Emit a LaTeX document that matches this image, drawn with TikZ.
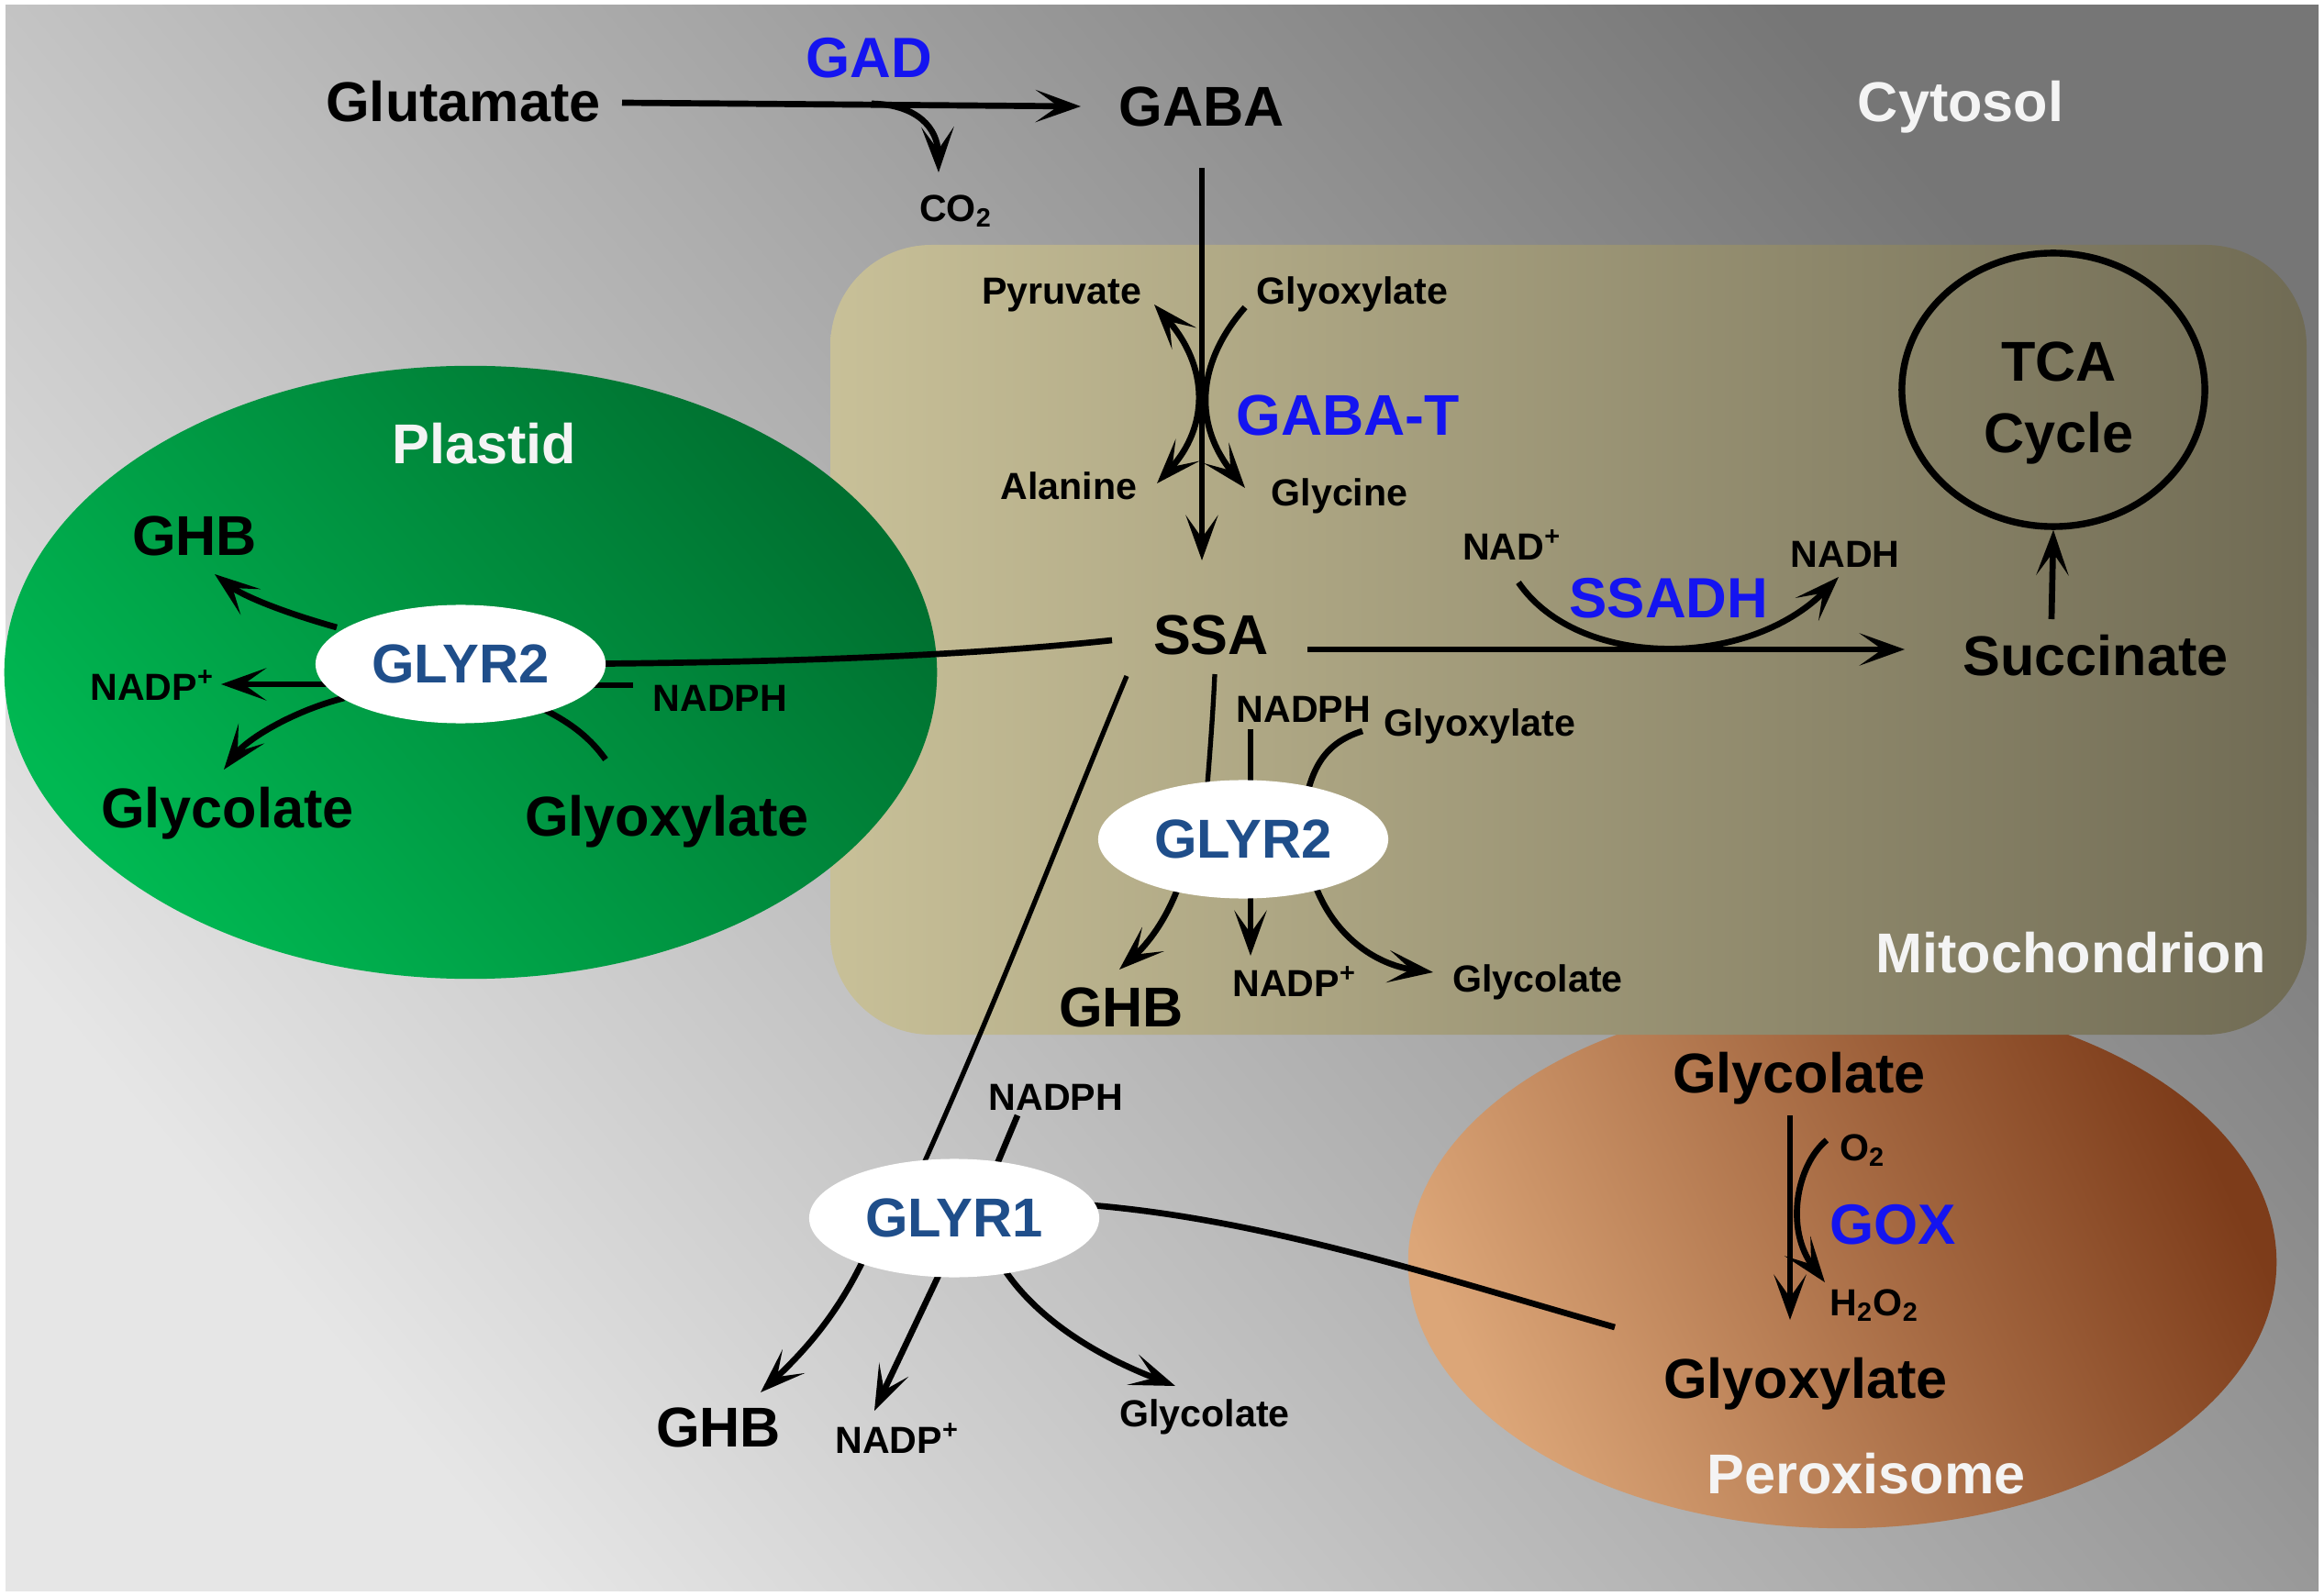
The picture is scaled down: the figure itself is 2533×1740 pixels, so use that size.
\documentclass[tikz,border=0pt]{standalone}
\usepackage{fontspec}
\setmainfont{Liberation Sans}
\usetikzlibrary{arrows.meta,shapes.geometric}
\pgfdeclarelayer{bg}
\pgfdeclarelayer{lines}
\pgfsetlayers{bg,lines,main}
\definecolor{enz}{RGB}{20,20,240}
\definecolor{glyr}{RGB}{31,78,138}
\definecolor{bgL}{RGB}{230,230,230}
\definecolor{bgD}{RGB}{118,118,118}
\definecolor{mitoL}{RGB}{200,192,152}
\definecolor{mitoR}{RGB}{112,107,84}
\definecolor{plL}{RGB}{0,184,82}
\definecolor{plD}{RGB}{0,112,48}
\definecolor{pxL}{RGB}{220,166,120}
\definecolor{pxM}{RGB}{180,100,52}
\definecolor{pxD}{RGB}{125,60,26}
\definecolor{wtext}{RGB}{244,244,244}
\begin{document}
\begin{tikzpicture}[x=0.01cm,y=-0.01cm,
  big/.style={font=\bfseries\fontsize{17.4}{20}\selectfont, inner sep=0pt, text depth=0pt},
  small/.style={font=\bfseries\fontsize{11.7}{14}\selectfont, inner sep=0pt, text depth=0pt},
  enzyme/.style={font=\bfseries\fontsize{17.6}{20}\selectfont, text=enz, inner sep=0pt, text depth=0pt},
  comp/.style={font=\bfseries\fontsize{17.4}{20}\selectfont, text=wtext, inner sep=0pt, text depth=0pt},
  glyrbox/.style={ellipse, fill=white, minimum width=3.16cm, minimum height=1.29cm, inner sep=0pt,
     font=\bfseries\fontsize{17}{20}\selectfont, text=glyr},
  flow/.style={line width=1.9pt, -{Stealth[length=14pt,width=10pt,inset=7pt]}},
  flowboth/.style={line width=1.9pt, {Stealth[length=14pt,width=10pt,inset=7pt]}-{Stealth[length=14pt,width=10pt,inset=7pt]}},
  link/.style={line width=1.9pt},
  thinlink/.style={line width=1.5pt},
]
\useasboundingbox (0,0) rectangle (2533,1740);
% ---------------- backgrounds
\begin{pgfonlayer}{bg}
\fill[white] (0,0) rectangle (2533,1740);
\shade[top color=bgD, bottom color=bgL, shading angle=-50] (6,6) rectangle (2527,1734);
\shade[top color=pxD, middle color=pxM, bottom color=pxL, shading angle=-65] (2008,1376) ellipse [x radius=4.73cm, y radius=2.9cm];
\shade[left color=mitoL, right color=mitoR, rounded corners=1.1cm] (905,267) rectangle (2514,1128);
\shade[top color=plD, bottom color=plL, shading angle=-50] (513,733) ellipse [x radius=5.08cm, y radius=3.34cm];
\end{pgfonlayer}

% ---------------- compartments
\node[comp] (cyt) at (2137,110) {Cytosol};
\node[comp] (plastid) at (528,483) {Plastid};
\node[comp] (mito) at (2257,1038) {Mitochondrion};
\node[comp] (perox) at (2034,1606) {Peroxisome};

% ---------------- cytosol top
\node[big] (glu) at (505,110) {Glutamate};
\node[enzyme] (gad) at (947,63) {GAD};
\node[big] (gaba) at (1310,116) {GABA};
\node[small] (co2) at (1042,227) {CO\textsubscript{2}};

% ---------------- mitochondrion
\node[small] (pyr) at (1157,317) {Pyruvate};
\node[small] (glxm) at (1474,317) {Glyoxylate};
\node[small] (ala) at (1165,530) {Alanine};
\node[small] (gly) at (1460,537) {Glycine};
\node[enzyme, font=\bfseries\fontsize{17.8}{20}\selectfont] (gabat) at (1469,453) {GABA-T};
\node[big] (ssa) at (1320,692) {SSA};
\node[small] (nad) at (1648,594) {NAD\textsuperscript{+}};
\node[small] (nadh) at (2011,604) {NADH};
\node[enzyme] (ssadh) at (1819,652) {SSADH};
\node[big] (suc) at (2284,714) {Succinate};
\node[draw, ellipse, line width=2.1pt, minimum width=3.3cm, minimum height=2.98cm] (tca) at (2238,425) {};
\node[big] (tcat) at (2244,394) {TCA};
\node[big] (tcac) at (2244,471) {Cycle};

\node[glyrbox] (glyrm) at (1355,915) {GLYR2};
\node[small] (nadphm) at (1421,773) {NADPH};
\node[small] (glxm2) at (1613,788) {Glyoxylate};
\node[big] (ghbm) at (1222,1098) {GHB};
\node[small] (nadpm) at (1411,1070) {NADP\textsuperscript{+}};
\node[small] (glcm) at (1676,1067) {Glycolate};

% ---------------- plastid
\node[glyrbox] (glyrp) at (502,724) {GLYR2};
\node[big] (ghbp) at (212,584) {GHB};
\node[small] (nadpp) at (166,747) {NADP\textsuperscript{+}};
\node[small] (nadphp) at (785,761) {NADPH};
\node[big] (glcp) at (248,880) {Glycolate};
\node[big] (glxp) at (727,889) {Glyoxylate};

% ---------------- cytosol GLYR1
\node[glyrbox] (glyr1) at (1040,1328) {GLYR1};
\node[small] (nadph1) at (1151,1196) {NADPH};
\node[big] (ghb1) at (783,1556) {GHB};
\node[small] (nadp1) at (978,1568) {NADP\textsuperscript{+}};
\node[small] (glc1) at (1313,1541) {Glycolate};

% ---------------- peroxisome
\node[big] (glcx) at (1961,1169) {Glycolate};
\node[small] (o2) at (2030,1251) {O\textsubscript{2}};
\node[enzyme] (gox) at (2063,1335) {GOX};
\node[small] (h2o2) at (2043,1420) {H\textsubscript{2}O\textsubscript{2}};
\node[big] (glxx) at (1968,1502) {Glyoxylate};

% ---------------- connectors
\begin{pgfonlayer}{lines}
% GAD
\coordinate (gluout) at (678,112);
\coordinate (gabain) at (1178,116);
\draw[flow] (gluout) -- (gabain);
\coordinate (co2s) at (950,113);
\coordinate (co2e) at (1023,188);
\draw[flow] (co2s) .. controls (1000,114) and (1022,140) .. (co2e);
% GABA -> SSA
\coordinate (gabaout) at (1310,183);
\coordinate (ssain) at (1310,611);
\draw[flow, line width=1.6pt] (gabaout) -- (ssain);
% GABA-T
\coordinate (pyrtip) at (1258,332);
\coordinate (alatip) at (1261,527);
\draw[flowboth] (pyrtip) .. controls (1318,400) and (1318,465) .. (alatip);
\coordinate (glxs) at (1357,335);
\coordinate (glytip) at (1357,532);
\draw[flow] (glxs) .. controls (1302,398) and (1302,465) .. (glytip);
% SSADH
\coordinate (ssaout) at (1425,708);
\coordinate (sucin) at (2076,708);
\draw[flow] (ssaout) -- (sucin);
\coordinate (nads) at (1655,635);
\coordinate (nadhtip) at (2004,629);
\draw[flow] (nads) .. controls (1720,730) and (1905,730) .. (nadhtip);
% Succinate -> TCA
\coordinate (sucout) at (2236,675);
\draw[flow] (sucout) -- (tca.south);
% SSA -> plastid GLYR2
\coordinate (ssaW) at (1212,698);
\draw[link] (ssaW) .. controls (1100,710) and (900,725) .. (glyrp.center);
% plastid GLYR2
\coordinate (ghbptip) at (234,626);
\draw[flow] (glyrp.center) ++(-135,-40) .. controls (310,668) and (265,650) .. (ghbptip);
\coordinate (nadpptip) at (241,746);
\draw[flow] (glyrp.center) ++(-120,22) -- (nadpptip);
\coordinate (nadphpe) at (690,747);
\draw[link] (nadphpe) -- (600,747);
\coordinate (glcptip) at (244,839);
\draw[flow] (glyrp.center) ++(-127,37) .. controls (320,775) and (270,805) .. (glcptip);
\coordinate (glxpe) at (660,828);
\draw[link] (glxpe) .. controls (640,800) and (615,783) .. (575,765);
% mito GLYR2
\coordinate (ssaS) at (1324,735);
\draw[thinlink] (ssaS) .. controls (1322,780) and (1318,830) .. (1314,880);
\coordinate (nadphms) at (1363,795);
\draw[link] (nadphms) -- (1363,880);
\coordinate (glxms) at (1485,797);
\draw[link] (glxms) .. controls (1450,808) and (1430,830) .. (1422,880);
\coordinate (ghbmtip) at (1220,1057);
\draw[flow] (1290,950) .. controls (1275,1000) and (1250,1030) .. (ghbmtip);
\coordinate (nadpmtip) at (1363,1042);
\draw[flow] (1363,960) -- (nadpmtip);
\coordinate (glcmtip) at (1562,1060);
\draw[flow] (1430,955) .. controls (1450,1020) and (1500,1052) .. (glcmtip);
% SSA -> GLYR1
\coordinate (ssaSW) at (1228,737);
\draw[thinlink] (ssaSW) .. controls (1160,900) and (1100,1060) .. (1004,1275);
\coordinate (nadph1s) at (1109,1216);
\draw[link] (nadph1s) -- (1078,1290);
\coordinate (ghb1tip) at (829,1518);
\draw[flow] (945,1365) .. controls (915,1430) and (880,1470) .. (ghb1tip);
\coordinate (nadp1tip) at (953,1538);
\draw[flow] (1028,1380) -- (nadp1tip);
\coordinate (glc1tip) at (1281,1511);
\draw[flow] (1092,1380) .. controls (1130,1440) and (1200,1480) .. (glc1tip);
% GLYR1 -> peroxisome glyoxylate
\coordinate (glxxW) at (1760,1447);
\draw[link] (glyr1.center) ++(150,-14) .. controls (1380,1330) and (1560,1390) .. (glxxW);
% GOX
\coordinate (glcxout) at (1951,1216);
\coordinate (glxxin) at (1951,1439);
\draw[flow] (glcxout) -- (glxxin);
\coordinate (o2s) at (1991,1243);
\coordinate (h2o2tip) at (1989,1398);
\draw[flow] (o2s) .. controls (1958,1270) and (1945,1340) .. (h2o2tip);
\end{pgfonlayer}
\end{tikzpicture}
\end{document}
